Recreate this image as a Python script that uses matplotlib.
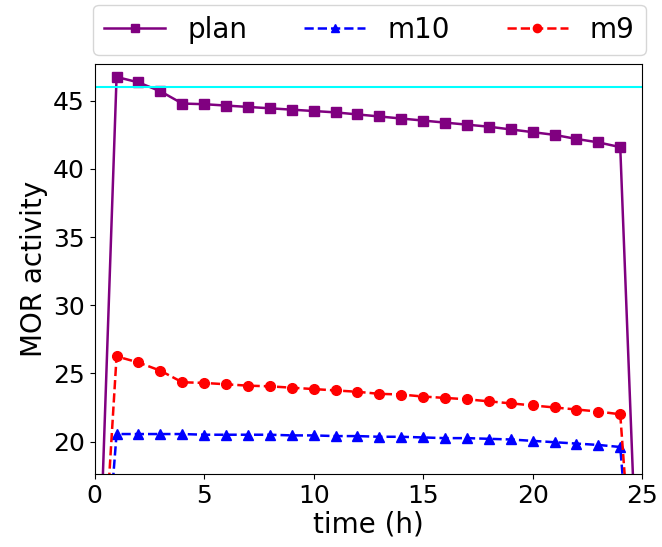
import matplotlib
matplotlib.use('Agg')
import matplotlib.pyplot as plt

time_h = list(range(0, 26))

plan = [0, 46.75, 46.35, 45.7, 44.8, 44.75, 44.65, 44.55, 44.45, 44.35, 44.25, 44.15,
        44.0, 43.85, 43.7, 43.55, 43.4, 43.25, 43.1, 42.9, 42.7, 42.5, 42.2, 41.95, 41.6, 0]
m10 = [0, 20.55, 20.55, 20.55, 20.55, 20.5, 20.5, 20.5, 20.5, 20.45, 20.45, 20.4,
       20.4, 20.35, 20.35, 20.3, 20.25, 20.25, 20.2, 20.15, 20.05, 19.95, 19.85, 19.75, 19.6, 0]
m9 = [0, 26.25, 25.8, 25.2, 24.35, 24.3, 24.2, 24.1, 24.05, 23.95, 23.85, 23.75,
      23.65, 23.5, 23.45, 23.3, 23.2, 23.1, 22.95, 22.8, 22.65, 22.5, 22.35, 22.2, 22.0, 0]
threshold = 46

plt.rcParams['font.size'] = 18
fig, ax = plt.subplots(figsize=(6.62, 5.47), dpi=100)
ax.plot(time_h, plan, color='purple', marker='s', markersize=7, linewidth=1.8, label='plan')
ax.plot(time_h, m10, color='blue', linestyle='--', marker='^', markersize=7, linewidth=1.8, label='m10')
ax.plot(time_h, m9, color='red', linestyle='--', marker='o', markersize=7, linewidth=1.8, label='m9')
ax.axhline(threshold, color='cyan', linewidth=1.5)

ax.set_xlim(0, 25)
ax.set_ylim(17.6, 47.7)
ax.set_xlabel('time (h)', fontsize=20, labelpad=2)
ax.set_ylabel('MOR activity', fontsize=20)
ax.legend(loc='lower left', bbox_to_anchor=(-0.003, 1.022, 1.01, 0.1), ncol=3, mode='expand',
          borderaxespad=0, fontsize=20, handlelength=2.2, markerscale=0.85)

plt.subplots_adjust(left=0.143, right=0.970, bottom=0.133, top=0.883)
plt.savefig('out.png')
